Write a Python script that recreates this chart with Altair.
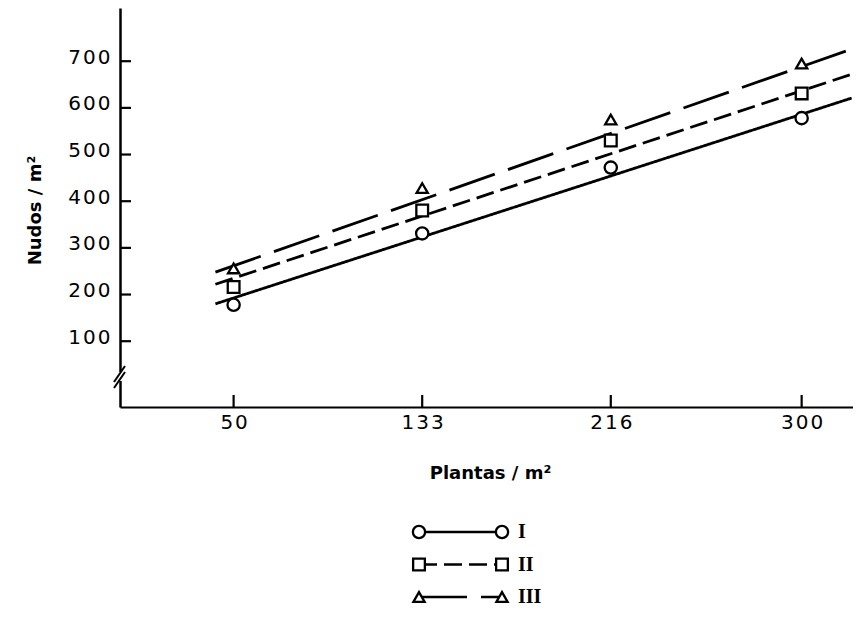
import altair as alt
import pandas as pd

# ---- data ----
series = ["I", "II", "III"]
plantas = [50, 133, 216, 300]
nudos_I = [178, 331, 472, 578]
nudos_II = [216, 380, 530, 631]
nudos_III = [256, 428, 575, 695]

# fitted lines (end points)
line_x = [42, 322]
line_I = [180, 621]
line_II = [222, 672]
line_III = [248, 726]

x_ticks = [50, 133, 216, 300]
y_ticks = [100, 200, 300, 400, 500, 600, 700]

# ---- tables ----
pts = pd.DataFrame({
    "x": plantas * 3,
    "y": nudos_I + nudos_II + nudos_III,
    "series": ["I"] * 4 + ["II"] * 4 + ["III"] * 4,
})
lines = pd.DataFrame({
    "x": line_x * 3,
    "y": line_I + line_II + line_III,
    "series": ["I"] * 2 + ["II"] * 2 + ["III"] * 2,
})
legend_df = pd.DataFrame({"series": series, "row": [0, 1, 2]})
xt = pd.DataFrame({"v": x_ticks})
yt = pd.DataFrame({"v": y_ticks})
one = pd.DataFrame({"k": [0]})

W, H = 733, 399
FONT = "DejaVu Sans"
SPACED = "replace(datum.label, regexp('(\\\\d)(?=\\\\d)', 'g'), '$1\u200a')"

xscale = alt.Scale(domain=[0, 322.6], nice=False, zero=False)
yscale = alt.Scale(domain=[-41, 814], nice=False, zero=False)
dash_scale = alt.Scale(domain=series, range=[[1, 0], [18, 7], [48, 14]])
shape_scale = alt.Scale(domain=series, range=["circle", "square", "triangle-up"])
size_scale = alt.Scale(domain=series, range=[150, 125, 190])

x_axis = alt.Axis(
    values=x_ticks, ticks=False, tickSize=0, grid=False,
    domainColor="black", domainWidth=2,
    labelFont=FONT, labelFontSize=20, labelColor="black", labelPadding=5,
    labelExpr=SPACED,
    title="Plantas / m²", titleFont=FONT, titleFontSize=18, titleFontWeight="bold",
    titleColor="black", titleX=370, titleY=66, titleAlign="center",
    titleBaseline="middle",
)
y_axis = alt.Axis(
    values=y_ticks, ticks=False, tickSize=0, grid=False,
    domainColor="black", domainWidth=2.5,
    labelFont=FONT, labelFontSize=20, labelColor="black", labelPadding=10,
    labelBaseline="alphabetic", labelOffset=2, labelExpr=SPACED,
    title="Nudos / m²", titleFont=FONT, titleFontSize=18, titleFontWeight="bold",
    titleColor="black", titleX=-85, titleY=202, titleAngle=270,
    titleAlign="center", titleBaseline="middle",
)

line_layer = alt.Chart(lines).mark_line(color="black", strokeWidth=2.8).encode(
    x=alt.X("x:Q", scale=xscale, axis=x_axis),
    y=alt.Y("y:Q", scale=yscale, axis=y_axis),
    detail="series:N",
    strokeDash=alt.StrokeDash("series:N", scale=dash_scale, legend=None),
)

point_layer = alt.Chart(pts).mark_point(
    fill="white", fillOpacity=1, stroke="black", strokeWidth=2.3, opacity=1
).encode(
    x=alt.X("x:Q", scale=xscale),
    y=alt.Y("y:Q", scale=yscale),
    shape=alt.Shape("series:N", scale=shape_scale, legend=None),
    size=alt.Size("series:N", scale=size_scale, legend=None),
)

ytick_layer = alt.Chart(yt).mark_rule(color="black", strokeWidth=2.2).encode(
    y=alt.Y("v:Q", scale=yscale),
    x=alt.value(0),
    x2=alt.value(11),
)
xtick_layer = alt.Chart(xt).mark_rule(color="black", strokeWidth=2.2).encode(
    x=alt.X("v:Q", scale=xscale),
    y=alt.value(H),
    y2=alt.value(H - 12),
)

gap = alt.Chart(one).mark_rule(color="white", strokeWidth=6).encode(
    x=alt.value(0), y=alt.value(364), y2=alt.value(373)
)
slash1 = alt.Chart(one).mark_rule(color="black", strokeWidth=2).encode(
    x=alt.value(-6), x2=alt.value(5), y=alt.value(380), y2=alt.value(364)
)
slash2 = alt.Chart(one).mark_rule(color="black", strokeWidth=2).encode(
    x=alt.value(-6), x2=alt.value(5), y=alt.value(374), y2=alt.value(358)
)

main = alt.layer(line_layer, point_layer, ytick_layer, xtick_layer, gap, slash1, slash2)

# ---- custom legend below the plot ----
leg_y = alt.Y("row:Q", scale=alt.Scale(domain=[0, 2], range=[524, 589]), axis=None)
leg_rule = alt.Chart(legend_df).mark_rule(color="black", strokeWidth=2.5).encode(
    x=alt.value(299), x2=alt.value(382), y=leg_y,
    strokeDash=alt.StrokeDash("series:N", scale=dash_scale, legend=None),
)
leg_pt_l = alt.Chart(legend_df).mark_point(
    fill="white", fillOpacity=1, stroke="black", strokeWidth=2.3, opacity=1
).encode(
    x=alt.value(299), y=leg_y,
    shape=alt.Shape("series:N", scale=shape_scale, legend=None),
    size=alt.Size("series:N", scale=size_scale, legend=None),
)
leg_pt_r = alt.Chart(legend_df).mark_point(
    fill="white", fillOpacity=1, stroke="black", strokeWidth=2.3, opacity=1
).encode(
    x=alt.value(382), y=leg_y,
    shape=alt.Shape("series:N", scale=shape_scale, legend=None),
    size=alt.Size("series:N", scale=size_scale, legend=None),
)
leg_txt = alt.Chart(legend_df).mark_text(
    align="left", baseline="middle", font="Liberation Serif",
    fontWeight="bold", fontSize=20, color="black"
).encode(x=alt.value(398), y=leg_y, text="series:N")

legend = alt.layer(leg_rule, leg_pt_l, leg_pt_r, leg_txt)

chart = alt.layer(main, legend).resolve_scale(y="independent").properties(
    width=W, height=H,
    autosize=alt.AutoSizeParams(type="none"),
    padding={"left": 112, "top": 0, "right": 0, "bottom": 201},
    background="white",
).configure_view(stroke=None)

chart.save("out.html", embed_options={"renderer": "svg", "actions": False})
